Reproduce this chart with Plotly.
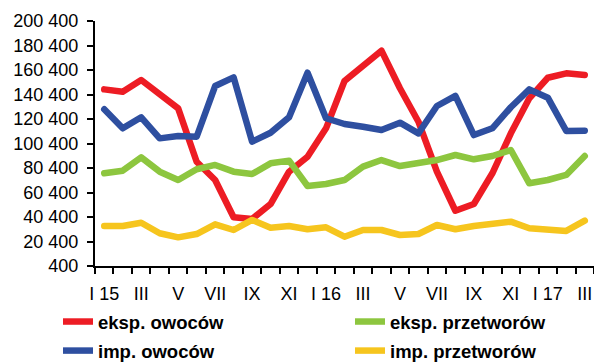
import plotly.graph_objects as go

months = ["I", "II", "III", "IV", "V", "VI", "VII", "VIII", "IX", "X", "XI", "XII"]
categories = [f"{m} {y}" for y in (15, 16) for m in months] + ["I 17", "II 17", "III 17"]
tick_labels = ["I 15", "", "III", "", "V", "", "VII", "", "IX", "", "XI", "",
               "I 16", "", "III", "", "V", "", "VII", "", "IX", "", "XI", "",
               "I 17", "", "III"]

eksp_owocow = [144600, 142700, 152200, 141400, 129100, 85500, 70600, 40200, 38800,
               51000, 77400, 89600, 112800, 151400, 163100, 176200, 145500, 118200,
               77400, 45500, 51000, 76100, 108700, 137300, 154100, 157700, 156300]
imp_owocow = [128300, 112800, 121800, 104600, 106500, 105900, 147300, 154400, 101900,
              109200, 121800, 158200, 121000, 116300, 114100, 111400, 117400, 108700,
              131000, 139200, 107300, 112800, 130000, 144600, 137800, 110600, 110900]
eksp_przetworow = [76100, 78200, 89100, 77400, 70600, 79400, 82900, 77400, 75500,
                   84200, 86400, 65700, 67300, 70600, 81500, 86900, 82000, 84200,
                   86900, 91000, 87500, 90200, 95100, 67900, 70600, 74700, 90200]
imp_przetworow = [33100, 33100, 35700, 27100, 23800, 26500, 34400, 29800, 38000,
                  31700, 33100, 30400, 32000, 24300, 29800, 29800, 25700, 26500,
                  33900, 30400, 33100, 34700, 36600, 31200, 30600, 29000, 37400]

y_ticks = [400 + 20000 * k for k in range(11)]
y_tick_labels = [f"{v:,}".replace(",", " ") for v in y_ticks]

series = [
    ("eksp. owoców", eksp_owocow, "#ED1C24", "legend"),
    ("imp. owoców", imp_owocow, "#2E4FA0", "legend"),
    ("eksp. przetworów", eksp_przetworow, "#8DC63F", "legend2"),
    ("imp. przetworów", imp_przetworow, "#F6C51E", "legend2"),
]

FONT = "Liberation Sans, Arial, sans-serif"
TICK_SIZE = 18
LEG_SIZE = 18.5

fig = go.Figure()
for name, vals, color, leg in series:
    fig.add_trace(go.Scatter(
        x=categories, y=vals, mode="lines", name=name,
        line=dict(color=color, width=6.5),
        legend=leg, legendgroup=name,
    ))

legend_common = dict(
    orientation="v", xref="container", yref="container",
    xanchor="left", yanchor="top",
    font=dict(family=FONT, size=LEG_SIZE, color="black", weight="bold"),
    bgcolor="rgba(0,0,0,0)", borderwidth=0,
    tracegroupgap=2, itemwidth=30,
)

fig.update_layout(
    width=594, height=362,
    margin=dict(l=95, r=0, t=21, b=96, autoexpand=False),
    paper_bgcolor="white", plot_bgcolor="white",
    font=dict(family=FONT, size=TICK_SIZE, color="black"),
    showlegend=True,
    legend=dict(x=58 / 594, y=1 - 303 / 362, **legend_common),
    legend2=dict(x=350 / 594, y=1 - 303 / 362, **legend_common),
    xaxis=dict(
        type="category", range=[-0.5, len(categories) - 0.5],
        tickmode="array", tickvals=categories, ticktext=tick_labels,
        tickson="boundaries", ticks="outside", ticklen=6, tickwidth=1.5,
        tickangle=0, automargin=False, ticklabelstandoff=10,
        tickcolor="black", showline=True, linecolor="black", linewidth=2,
        showgrid=False, zeroline=False,
        tickfont=dict(family=FONT, size=TICK_SIZE, color="black"),
    ),
    yaxis=dict(
        range=[400, 200400], tickmode="array", tickvals=y_ticks,
        ticktext=y_tick_labels, ticks="outside", ticklen=6, tickwidth=1.5,
        automargin=False, ticklabelstandoff=5,
        tickcolor="black", showline=True, linecolor="black", linewidth=2,
        showgrid=False, zeroline=False,
        tickfont=dict(family=FONT, size=TICK_SIZE, color="black"),
    ),
)

fig.write_html(
    "out.html",
    config={"displayModeBar": False},
    post_script=(
        "document.body.style.margin='0';document.body.style.overflow='hidden';"
        "document.querySelectorAll('.scatterlayer path.js-line').forEach("
        "function(p){p.style.strokeLinejoin='round';p.style.strokeLinecap='round';});"
    ),
)
